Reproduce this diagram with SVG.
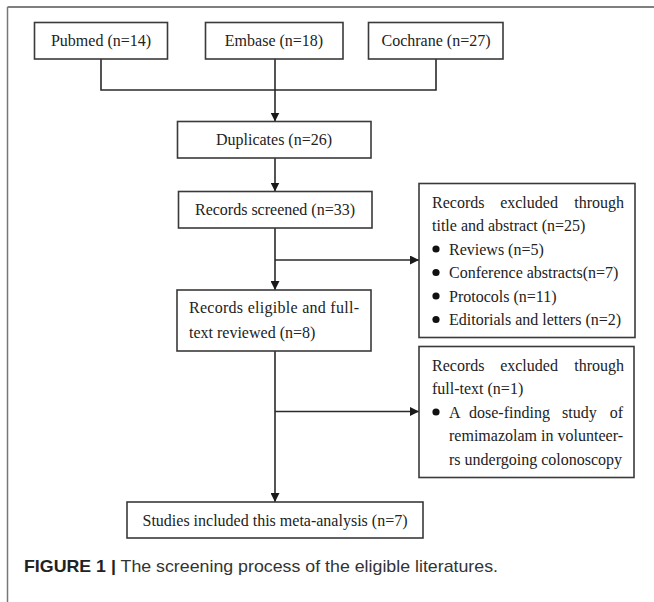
<svg xmlns="http://www.w3.org/2000/svg" width="654" height="602" viewBox="0 0 654 602">
<style>
.box{fill:#fff;stroke:#3a3a3a;stroke-width:1.6}
.t{font-family:"Liberation Serif","Times New Roman",serif;font-size:16px;fill:#222}
.c{text-anchor:middle}
.e{text-anchor:end}
.ln{fill:none;stroke:#2a2a2a;stroke-width:1.6}
.cap{font-family:"Liberation Sans",Arial,sans-serif;font-size:17px;fill:#333}
</style>
<defs>
<marker id="ah" viewBox="0 0 10 10" refX="10" refY="5" markerWidth="9" markerHeight="9" markerUnits="userSpaceOnUse" orient="auto">
<path d="M0,0 L10,5 L0,10 Z" fill="#1a1a1a"/>
</marker>
</defs>
<rect width="654" height="602" fill="#fff"/>
<g id="frame">
<line x1="7.5" y1="7" x2="654" y2="7" stroke="#555" stroke-width="1.5"/>
<line x1="7.5" y1="7" x2="7.5" y2="602" stroke="#777" stroke-width="1.5"/>
</g>
<g id="connectors">
<path class="ln" d="M101,59 V90 H436 V59"/>
<line class="ln" x1="275" y1="59" x2="275" y2="121.5" marker-end="url(#ah)"/>
<line class="ln" x1="275" y1="158" x2="275" y2="191.5" marker-end="url(#ah)"/>
<line class="ln" x1="275" y1="228" x2="275" y2="290" marker-end="url(#ah)"/>
<line class="ln" x1="275" y1="260" x2="419" y2="260" marker-end="url(#ah)"/>
<line class="ln" x1="275" y1="351" x2="275" y2="502" marker-end="url(#ah)"/>
<line class="ln" x1="275" y1="411.5" x2="419" y2="411.5" marker-end="url(#ah)"/>
</g>
<g id="pubmed">
<rect class="box" x="34.5" y="22.5" width="133" height="36.5"/>
<text class="t c" x="101" y="46">Pubmed (n=14)</text>
</g>
<g id="embase">
<rect class="box" x="205.5" y="22.5" width="137.5" height="36.5"/>
<text class="t c" x="274" y="46">Embase (n=18)</text>
</g>
<g id="cochrane">
<rect class="box" x="368.5" y="22.5" width="134.5" height="36.5"/>
<text class="t c" x="436" y="46">Cochrane (n=27)</text>
</g>
<g id="duplicates">
<rect class="box" x="177.5" y="121.5" width="193.5" height="36.5"/>
<text class="t c" x="274" y="145">Duplicates (n=26)</text>
</g>
<g id="screened">
<rect class="box" x="178.5" y="191.5" width="193.5" height="36.5"/>
<text class="t c" x="275" y="215">Records screened (n=33)</text>
</g>
<g id="eligible">
<rect class="box" x="177" y="290" width="194" height="61"/>
<text class="t" x="189" y="312.5" textLength="170" lengthAdjust="spacing">Records eligible and full-</text>
<text class="t" x="189" y="338">text reviewed (n=8)</text>
</g>
<g id="excluded1">
<rect class="box" x="419" y="183.5" width="216" height="154"/>
<text class="t" x="432" y="207.5">Records</text>
<text class="t c" x="529" y="207.5">excluded</text>
<text class="t e" x="624" y="207.5">through</text>
<text class="t" x="432" y="231">title and abstract (n=25)</text>
<circle cx="436" cy="249" r="3.6" fill="#111"/>
<text class="t" x="449" y="254.5">Reviews (n=5)</text>
<circle cx="436" cy="272.5" r="3.6" fill="#111"/>
<text class="t" x="449" y="278">Conference abstracts(n=7)</text>
<circle cx="436" cy="296" r="3.6" fill="#111"/>
<text class="t" x="449" y="301.5">Protocols (n=11)</text>
<circle cx="436" cy="319.5" r="3.6" fill="#111"/>
<text class="t" x="449" y="325">Editorials and letters (n=2)</text>
</g>
<g id="excluded2">
<rect class="box" x="419" y="346.5" width="215" height="131"/>
<text class="t" x="432" y="370.5">Records</text>
<text class="t c" x="529" y="370.5">excluded</text>
<text class="t e" x="624" y="370.5">through</text>
<text class="t" x="432" y="394">full-text (n=1)</text>
<circle cx="436" cy="412" r="3.6" fill="#111"/>
<text class="t" x="449" y="417.5">A</text>
<text class="t" x="469" y="417.5">dose-finding</text>
<text class="t" x="562" y="417.5">study</text>
<text class="t e" x="623" y="417.5">of</text>
<text class="t" x="449" y="441" textLength="174" lengthAdjust="spacing">remimazolam in volunteer-</text>
<text class="t" x="449" y="464.5" textLength="173" lengthAdjust="spacing">rs undergoing colonoscopy</text>
</g>
<g id="included">
<rect class="box" x="127" y="502" width="296" height="36"/>
<text class="t c" x="275" y="525.5">Studies included this meta-analysis (n=7)</text>
</g>
<g id="caption">
<text class="cap" x="24" y="572" textLength="474" lengthAdjust="spacingAndGlyphs"><tspan font-weight="bold" fill="#222">FIGURE 1 |</tspan> The screening process of the eligible literatures.</text>
</g>
</svg>
